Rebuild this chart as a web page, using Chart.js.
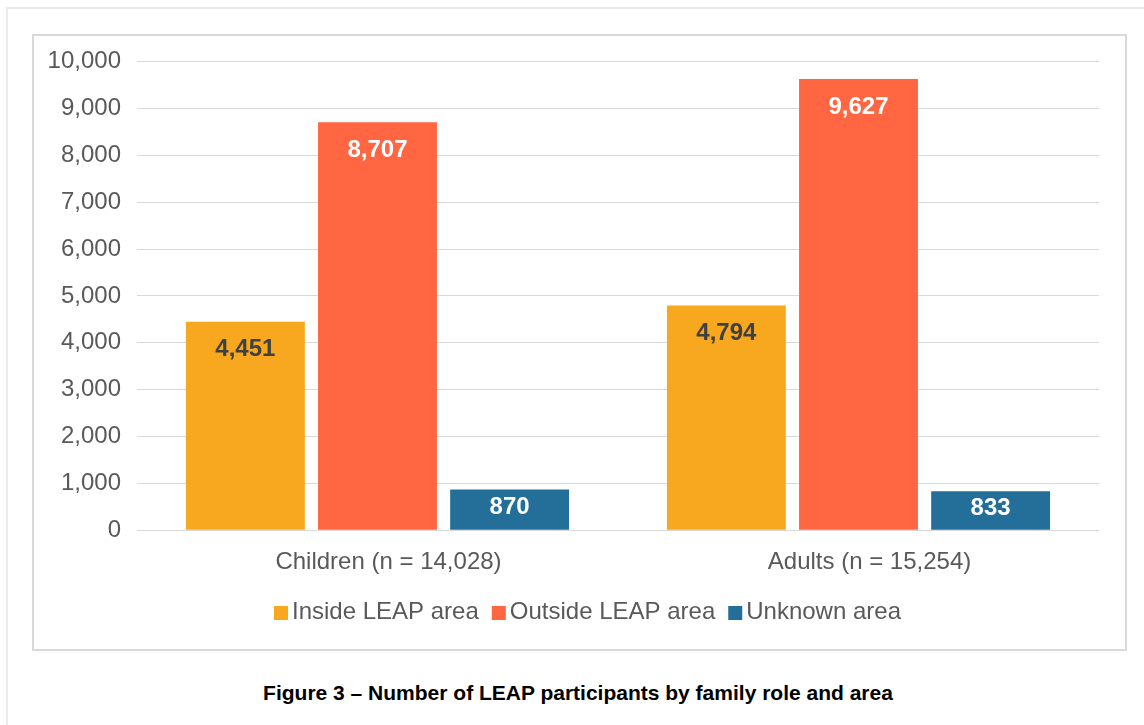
<!DOCTYPE html>
<html>
<head>
<meta charset="utf-8">
<script src="https://cdn.jsdelivr.net/npm/chart.js@4.4.0/dist/chart.umd.min.js"></script>
<style>
    body { margin: 0; background: #fff; width: 1144px; height: 725px; overflow: hidden; position: relative; font-family: 'Liberation Sans', Arial, sans-serif; }
    .outer { position: absolute; left: 6px; top: 7px; width: 1200px; height: 800px; border: 2px solid #ebebeb; }
    .box { position: absolute; left: 32px; top: 34px; width: 1091px; height: 613px; border: 2px solid #d9d9d9; }
    .box canvas { display: block; }
    .caption { position: absolute; left: 0; width: 1156px; top: 681px; text-align: center; font-weight: bold; font-size: 21px; color: #000; }
</style>
</head>
<body>
<div class="outer"></div>
<div class="box"><canvas id="chart" width="1091" height="613"></canvas></div>
<div class="caption">Figure 3 – Number of LEAP participants by family role and area</div>

<script>
    const categories = ['Children (n = 14,028)', 'Adults (n = 15,254)'];
    const seriesNames = ['Inside LEAP area', 'Outside LEAP area', 'Unknown area'];
    const insideValues = [4451, 4794];
    const outsideValues = [8707, 9627];
    const unknownValues = [870, 833];
    const yTicks = [0, 1000, 2000, 3000, 4000, 5000, 6000, 7000, 8000, 9000, 10000];

    const colors = ['#F8A81E', '#FF6641', '#236F9A'];
    const labelColors = ['#404040', '#ffffff', '#ffffff'];
    const fontFamily = '"Liberation Sans", Arial, sans-serif';

    // draws the value inside the top of each bar
    const valueLabels = {
        id: 'valueLabels',
        afterDatasetsDraw(chart) {
            const ctx = chart.ctx;
            ctx.save();
            ctx.font = 'bold 24px ' + fontFamily;
            ctx.textAlign = 'center';
            ctx.textBaseline = 'middle';
            chart.data.datasets.forEach((ds, i) => {
                const meta = chart.getDatasetMeta(i);
                meta.data.forEach((bar, j) => {
                    const h = bar.base - bar.y;
                    ctx.fillStyle = labelColors[i];
                    ctx.fillText(ds.data[j].toLocaleString('en-US'), bar.x, bar.y + Math.min(28, h * 0.45));
                });
            });
            ctx.restore();
        }
    };

    // legend drawn by hand so the box/text spacing matches the original
    const tightLegend = {
        id: 'tightLegend',
        afterDraw(chart) {
            const ctx = chart.ctx;
            ctx.save();
            ctx.font = '24px ' + fontFamily;
            ctx.textBaseline = 'middle';
            const items = chart.data.datasets.map(ds => ({ text: ds.label, color: ds.backgroundColor, w: ctx.measureText(ds.label).width }));
            const total = items.reduce((s, it) => s + 14 + 4 + it.w, 0) + 13 * (items.length - 1);
            let x = chart.width / 2 + 8 - total / 2;
            const y = 576;
            items.forEach(it => {
                ctx.fillStyle = it.color;
                ctx.fillRect(x, y - 6, 14, 14);
                ctx.fillStyle = '#595959';
                ctx.fillText(it.text, x + 18, y);
                x += 18 + it.w + 13;
            });
            ctx.restore();
        }
    };

    new Chart(document.getElementById('chart').getContext('2d'), {
        type: 'bar',
        data: {
            labels: categories,
            datasets: [
                { label: seriesNames[0], data: insideValues, backgroundColor: colors[0] },
                { label: seriesNames[1], data: outsideValues, backgroundColor: colors[1] },
                { label: seriesNames[2], data: unknownValues, backgroundColor: colors[2] }
            ]
        },
        options: {
            responsive: false,
            animation: false,
            layout: { padding: { top: 20, right: 26, left: 0, bottom: 54 } },
            datasets: {
                bar: { categoryPercentage: 0.824, barPercentage: 0.9 }
            },
            plugins: {
                tooltip: { enabled: false },
                legend: { display: false }
            },
            scales: {
                x: {
                    grid: { display: false, drawTicks: false },
                    border: { display: false },
                    ticks: {
                        padding: 18,
                        labelOffset: 11,
                        color: '#595959',
                        font: { size: 24, family: fontFamily }
                    }
                },
                y: {
                    min: 0,
                    max: 10000,
                    afterFit(scale) { scale.width = 103; },
                    afterBuildTicks(scale) { scale.ticks = yTicks.map(v => ({ value: v })); },
                    grid: { color: '#d9d9d9', lineWidth: 1, drawTicks: false },
                    border: { display: false },
                    ticks: {
                        padding: 16,
                        color: '#595959',
                        font: { size: 24, family: fontFamily, lineHeight: 0.8 },
                        callback: v => v.toLocaleString('en-US')
                    }
                }
            }
        },
        plugins: [valueLabels, tightLegend]
    });
</script>
</body>
</html>
